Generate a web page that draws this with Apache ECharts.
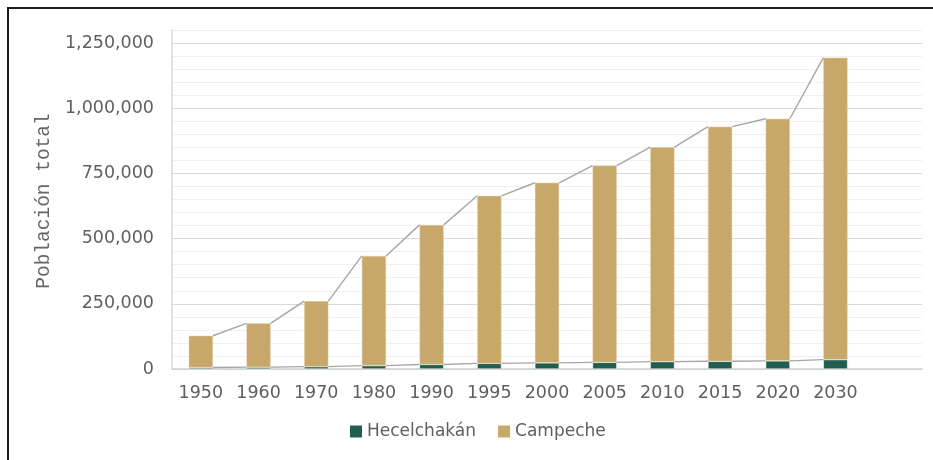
<!DOCTYPE html>
<html>
<head>
<meta charset="utf-8">
<script src="https://cdn.jsdelivr.net/npm/echarts@6/dist/echarts.min.js"></script>
<style>
  html, body { margin: 0; padding: 0; background: #ffffff; }
  #chart { width: 933px; height: 460px; }
</style>
</head>
<body>
<div id="chart"></div>
<script>
// Population by census year (last slot left empty as spacing)
const years = ['1950', '1960', '1970', '1980', '1990', '1995', '2000', '2005', '2010', '2015', '2020', '2030', ''];
const hecelchakan = [5500, 7000, 9000, 13000, 17500, 21500, 23500, 25500, 28300, 29500, 31200, 36000];
const campeche = [122098, 168219, 251556, 420553, 535185, 642516, 690689, 754730, 822441, 899931, 928363, 1158000];
const yMax = 1300000;
const yStep = 50000;
const yLabelStep = 250000;

const COLOR_HEC = '#215e4f';
const COLOR_CAM = '#c8a76a';
const BAR_RATIO = 0.42;

const totals = campeche.map((v, i) => v + hecelchakan[i]);

// pairs of neighbouring bars joined by series lines
const pairs = [];
for (let i = 0; i < hecelchakan.length - 1; i++) pairs.push([i, i + 1]);

function seriesLines(params, api) {
  const a = api.value(0), b = api.value(1);
  const half = api.size([1, 0])[0] * BAR_RATIO / 2;
  const segs = [hecelchakan, totals].map(arr => {
    const p1 = api.coord([a, arr[a]]);
    const p2 = api.coord([b, arr[b]]);
    return {
      type: 'line',
      shape: { x1: p1[0] + half, y1: p1[1], x2: p2[0] - half, y2: p2[1] },
      style: { stroke: '#a6a6a6', lineWidth: 1.4 }
    };
  });
  return { type: 'group', children: segs };
}

const gridColors = ['#d9d9d9', '#f0f0f0', '#f0f0f0', '#f0f0f0', '#f0f0f0'];
const labelFont = { fontFamily: 'DejaVu Sans', fontSize: 17.5, color: '#5f5f5f' };

const chart = echarts.init(document.getElementById('chart'));
chart.setOption({
  backgroundColor: '#ffffff',
  animation: false,
  grid: { left: 172, right: 11, top: 30, bottom: 91 },
  legend: {
    data: ['Hecelchakán', 'Campeche'],
    left: 350,
    top: 423,
    padding: 0,
    icon: 'rect',
    itemWidth: 12,
    itemHeight: 12,
    itemGap: 22,
    itemStyle: { borderWidth: 0 },
    textStyle: Object.assign({}, labelFont, { fontSize: 17 })
  },
  xAxis: {
    type: 'category',
    data: years,
    axisLine: { show: true, lineStyle: { color: '#d0d0d0', width: 1.5 } },
    axisTick: { show: false },
    axisLabel: Object.assign({}, labelFont, { margin: 15, interval: 0 })
  },
  yAxis: {
    type: 'value',
    min: 0,
    max: yMax,
    interval: yStep,
    axisLine: { show: true, lineStyle: { color: '#d9d9d9', width: 1.5 } },
    axisTick: { show: false },
    axisLabel: Object.assign({}, labelFont, {
      margin: 18,
      formatter: v => (v % yLabelStep === 0 ? v.toLocaleString('en-US') : '')
    }),
    splitLine: { show: true, lineStyle: { color: gridColors, width: 1.2 } }
  },
  graphic: [
    {
      type: 'rect',
      shape: { x: 8, y: 8, width: 960, height: 480 },
      style: { fill: 'none', stroke: '#1a1a1a', lineWidth: 2 },
      silent: true
    },
    {
      type: 'text',
      x: 44,
      y: 201,
      rotation: Math.PI / 2,
      style: {
        text: 'Población total',
        font: '19.5px "Liberation Mono", monospace',
        fill: '#666666',
        align: 'center',
        verticalAlign: 'middle'
      }
    }
  ],
  series: [
    {
      name: 'Hecelchakán',
      type: 'bar',
      stack: 'pop',
      data: hecelchakan,
      barWidth: (BAR_RATIO * 100) + '%',
      itemStyle: { color: COLOR_HEC, borderColor: '#ffffff', borderWidth: 0.5 }
    },
    {
      name: 'Campeche',
      type: 'bar',
      stack: 'pop',
      data: campeche,
      barWidth: (BAR_RATIO * 100) + '%',
      itemStyle: { color: COLOR_CAM, borderColor: '#e6d6b0', borderWidth: 0.5 }
    },
    {
      name: 'lines',
      type: 'custom',
      renderItem: seriesLines,
      data: pairs,
      z: 3,
      silent: true
    }
  ]
});
</script>
</body>
</html>
